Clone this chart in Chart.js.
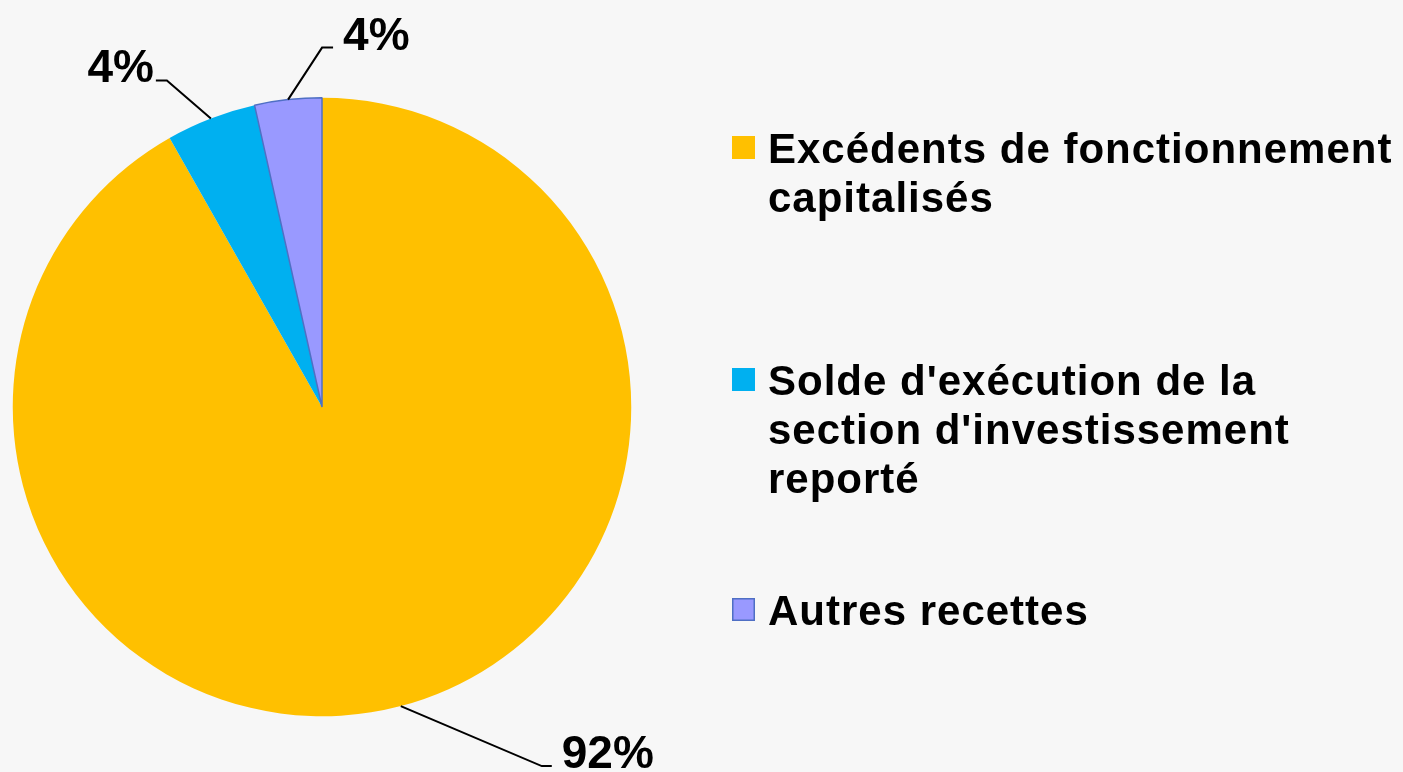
<!DOCTYPE html>
<html lang="fr">
<head>
    <meta charset="UTF-8">
    <title>Recettes d'investissement</title>
    <script src="https://cdn.jsdelivr.net/npm/chart.js@4.4.1/dist/chart.umd.min.js"></script>
    <style>
        html, body {
            margin: 0;
            padding: 0;
            background-color: #f7f7f7;
            overflow: hidden;
        }
        #wrap {
            position: relative;
            width: 1403px;
            height: 772px;
        }
    </style>
</head>
<body>
    <div id="wrap">
        <canvas id="pieChart" width="1403" height="772"></canvas>
    </div>

    <script>
        // données
        const categories = [
            ['Excédents de fonctionnement', 'capitalisés'],
            ["Solde d'exécution de la", "section d'investissement", 'reporté'],
            ['Autres recettes']
        ];
        const values = [91.8, 4.7, 3.5];
        const pctLabels = ['92%', '4%', '4%'];
        const colors = ['#FFC000', '#00B0F0', '#9999FF'];
        const borderColors = ['#FFC000', '#00B0F0', '#4F6FC4'];
        const borderWidths = [0, 0, 1.5];

        // position des étiquettes : coude puis fin du trait, relatif au point d'ancrage
        const labelLayout = [
            { elbow: [141, 60], end: [151, 60], align: 'left' },
            { elbow: [-44, -38], end: [-55, -38], align: 'right' },
            { elbow: [34, -52], end: [45, -52], align: 'left' }
        ];

        // légende dessinée à droite
        const legendTop = [163, 395, 625];
        const legendX = 732;
        const legendLine = 49;

        const leaderLines = {
            id: 'leaderLines',
            afterDatasetsDraw(chart) {
                const ctx = chart.ctx;
                const meta = chart.getDatasetMeta(0);
                ctx.save();
                meta.data.forEach((arc, i) => {
                    const p = arc.getProps(['x', 'y', 'startAngle', 'endAngle', 'outerRadius']);
                    const mid = (p.startAngle + p.endAngle) / 2;
                    const ax = p.x + Math.cos(mid) * p.outerRadius;
                    const ay = p.y + Math.sin(mid) * p.outerRadius;
                    const lay = labelLayout[i];
                    ctx.strokeStyle = '#000';
                    ctx.lineWidth = 2;
                    ctx.beginPath();
                    ctx.moveTo(ax, ay);
                    ctx.lineTo(ax + lay.elbow[0], ay + lay.elbow[1]);
                    ctx.lineTo(ax + lay.end[0], ay + lay.end[1]);
                    ctx.stroke();

                    ctx.font = 'bold 46px "Liberation Sans", Arial, sans-serif';
                    ctx.fillStyle = '#000';
                    ctx.textBaseline = 'alphabetic';
                    ctx.textAlign = lay.align;
                    const tx = ax + lay.end[0] + (lay.align === 'left' ? 10 : -2);
                    ctx.fillText(pctLabels[i], tx, ay + lay.end[1] + 2);
                });
                ctx.restore();
            }
        };

        const sideLegend = {
            id: 'sideLegend',
            afterDraw(chart) {
                const ctx = chart.ctx;
                ctx.save();
                categories.forEach((lines, i) => {
                    const base = legendTop[i];
                    ctx.fillStyle = colors[i];
                    ctx.fillRect(legendX, base - 27, 23, 23);
                    if (borderWidths[i] > 0) {
                        ctx.strokeStyle = borderColors[i];
                        ctx.lineWidth = 1.5;
                        ctx.strokeRect(legendX + 0.75, base - 26.25, 21.5, 21.5);
                    }
                    ctx.fillStyle = '#000';
                    ctx.font = 'bold 42px "Liberation Sans", Arial, sans-serif';
                    ctx.letterSpacing = '1px';
                    ctx.textAlign = 'left';
                    ctx.textBaseline = 'alphabetic';
                    lines.forEach((line, j) => {
                        ctx.fillText(line, 768, base + j * legendLine);
                    });
                });
                ctx.restore();
            }
        };

        const ctx = document.getElementById('pieChart').getContext('2d');
        new Chart(ctx, {
            type: 'pie',
            data: {
                labels: categories.map(c => c.join(' ')),
                datasets: [{
                    data: values,
                    backgroundColor: colors,
                    borderColor: borderColors,
                    borderWidth: borderWidths
                }]
            },
            options: {
                responsive: false,
                animation: false,
                layout: {
                    padding: { left: 12, top: 97, right: 771, bottom: 55 }
                },
                plugins: {
                    legend: { display: false },
                    tooltip: { enabled: false }
                }
            },
            plugins: [leaderLines, sideLegend]
        });
    </script>
</body>
</html>
